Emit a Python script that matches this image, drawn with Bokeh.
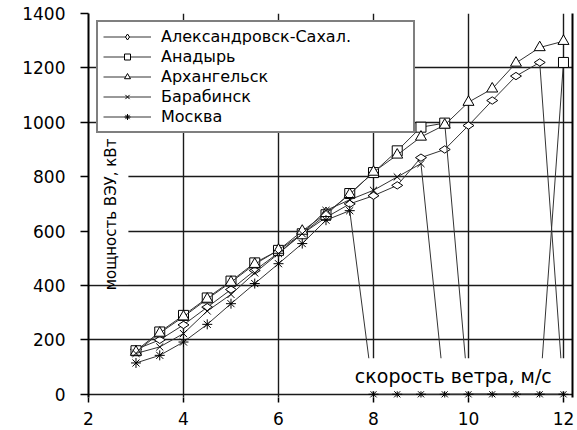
import numpy as np
from bokeh.plotting import figure
from bokeh.models import (ColumnDataSource, Legend, LegendItem, Label, LinearAxis,
                          FixedTicker, Range1d)
from bokeh.embed import file_html
from bokeh.resources import INLINE

# ---- data ----
speed = [3, 3.5, 4, 4.5, 5, 5.5, 6, 6.5, 7, 7.5, 8, 8.5, 9, 9.5, 10, 10.5, 11, 11.5, 12]
alexandrovsk = [165, 200, 255, 320, 385, 455, 520, 590, 650, 700, 730, 768, 870, 900, 988, 1080, 1170, 1220, 0]
anadyr = [160, 229, 290, 354, 416, 483, 529, 590, 660, 738, 815, 895, 982, 997, 0, 0, 0, 0, 1220]
arkhangelsk = [155, 225, 285, 350, 412, 478, 530, 600, 665, 735, 817, 880, 946, 990, 1074, 1123, 1218, 1275, 1298]
barabinsk = [150, 174, 223, 306, 367, 446, 517, 590, 676, 715, 750, 799, 848, 0, 0, 0, 0, 0, 0]
moskva = [115, 143, 192, 257, 333, 407, 480, 554, 640, 675, 0, 0, 0, 0, 0, 0, 0, 0, 0]

series_names = ["Александровск-Сахал.", "Анадырь", "Архангельск", "Барабинск", "Москва"]
series_values = [alexandrovsk, anadyr, arkhangelsk, barabinsk, moskva]
series_markers = ["diamond", "square", "triangle", "x", "asterisk"]

x_ticks = [2, 4, 6, 8, 10, 12]
y_ticks = [0, 200, 400, 600, 800, 1000, 1200, 1400]

x_title = "скорость ветра, м/с"
y_title = "мощность ВЭУ, кВт"

FONT = "DejaVu Sans"

p = figure(width=577, height=430, x_range=Range1d(2, 12.19), y_range=Range1d(-12, 1400),
           output_backend="svg", toolbar_location=None, title=None,
           min_border_left=88, min_border_right=5, min_border_top=13, min_border_bottom=33)
p.background_fill_color = "white"
p.outline_line_color = None

# axes
p.xaxis.ticker = FixedTicker(ticks=x_ticks)
p.yaxis.ticker = FixedTicker(ticks=y_ticks)
p.xaxis.axis_line_color = None
p.yaxis.axis_line_width = 2
p.yaxis.axis_line_color = "black"
for ax in (p.xaxis, p.yaxis):
    ax.minor_tick_line_color = None
    ax.major_tick_in = 0
    ax.major_tick_line_color = "black"
    ax.major_tick_line_width = 1.5
    ax.major_label_text_font = FONT
    ax.major_label_text_font_size = "17px"
    ax.major_label_text_color = "black"
p.yaxis.major_tick_out = 8
p.yaxis.major_label_standoff = 15
p.xaxis.major_tick_out = 5
p.xaxis.major_label_standoff = 9

right_ax = LinearAxis(ticker=FixedTicker(ticks=[]), axis_line_width=2, axis_line_color="black",
                      major_tick_out=0, major_tick_in=0, minor_tick_out=0, minor_tick_in=0,
                      major_label_standoff=0, major_label_text_font_size="0px")
p.add_layout(right_ax, "right")

# grid
p.xgrid.ticker = FixedTicker(ticks=x_ticks)
p.ygrid.ticker = FixedTicker(ticks=y_ticks)
for g in (p.xgrid, p.ygrid):
    g.grid_line_color = "#1a1a1a"
    g.grid_line_width = 1.4

# series
items = []
for name, vals, mk in zip(series_names, series_values, series_markers):
    src = ColumnDataSource(dict(x=speed, y=vals))
    lr = p.line("x", "y", source=src, line_color="#333333", line_width=1)
    if mk == "asterisk":
        mx, my = speed, vals
    else:
        mx = [s for s, v in zip(speed, vals) if v > 0]
        my = [v for v in vals if v > 0]
    msrc = ColumnDataSource(dict(x=mx, y=my))
    kw = dict(marker=mk, fill_color="white", line_color="black", line_width=1)
    if mk == "diamond":
        sr = p.scatter("x", "y", source=msrc, size=11, angle=np.pi / 2, **kw)
    elif mk == "square":
        sr = p.scatter("x", "y", source=msrc, size=10, **kw)
    elif mk == "triangle":
        sr = p.scatter("x", "y", source=msrc, size=11, **kw)
    else:
        sr = p.scatter("x", "y", source=msrc, size=10, **kw)
    items.append(LegendItem(label=name, renderers=[lr, sr]))

# white backgrounds of the in-plot axis titles
p.quad(left=[2.0], right=[2.84], bottom=[404], top=[933], fill_color="white", line_color=None)
p.quad(left=[7.37], right=[12.15], bottom=[11], top=[132], fill_color="white", line_color=None)

p.add_layout(Label(x=2.48, y=661, text=y_title, angle=np.pi / 2, text_align="center",
                   text_baseline="middle", text_font=FONT, text_font_size="15px",
                   text_color="black"))
p.add_layout(Label(x=9.68, y=66, text=x_title, text_align="center",
                   text_baseline="middle", text_font=FONT, text_font_size="19px",
                   text_color="black"))

legend = Legend(items=items, location=(8, 264), orientation="vertical",
                border_line_color="black", border_line_width=2,
                background_fill_color="white", background_fill_alpha=1.0,
                label_text_font=FONT, label_text_font_size="16px", label_text_color="black",
                glyph_width=48, glyph_height=15, label_height=15, label_standoff=10,
                label_width=247, padding=5, spacing=1, margin=0)
p.add_layout(legend)

open("out.html", "w").write(file_html(p, INLINE))
